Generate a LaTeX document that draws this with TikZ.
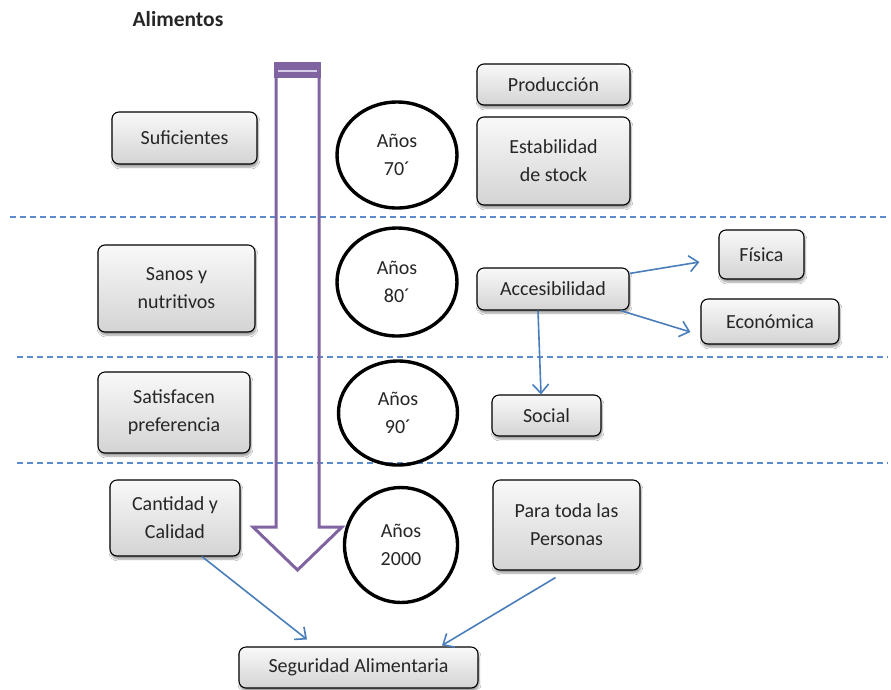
\documentclass[tikz,border=0pt]{standalone}
\usepackage{fontspec}
\setmainfont{Carlito}
\usetikzlibrary{arrows.meta,shadows.blur,calc,shapes.geometric}
\definecolor{dashblue}{RGB}{91,139,203}
\definecolor{arrblue}{RGB}{74,126,187}
\definecolor{purp}{RGB}{128,100,162}
\definecolor{purplight}{RGB}{215,205,230}
\begin{document}
\begin{tikzpicture}[x=1pt,y=-1pt,
  box/.style={draw=black, line width=1.1pt, rounded corners=7pt, top color=gray!5, bottom color=gray!34,
    align=center, inner sep=0pt, font=\fontsize{20}{28}\selectfont, text=black!85,
    blur shadow={shadow xshift=1pt, shadow yshift=-3pt, shadow opacity=40, shadow blur steps=6}},
  yr/.style={ellipse, draw=black, line width=3.4pt, align=center, inner sep=0pt, font=\fontsize{20}{28}\selectfont, text=black!85},
  sep/.style={dashblue, line width=1.2pt, dash pattern=on 6pt off 4pt},
  con/.style={arrblue, line width=1.6pt, -{Straight Barb[length=9pt,width=16pt,line width=1.6pt]}},
  big/.style={purp, line width=3pt, line join=miter}]
\useasboundingbox (0,0) rectangle (891,689);
\fill[white] (0,0) rectangle (891,689);

% title
\node[font=\fontsize{21.5}{24}\selectfont\bfseries, text=black!85] (title) at (178,19) {Alimentos};

% separators
\draw[sep] (10,217) -- (888,217);
\draw[sep] (17,357) -- (888,357);
\draw[sep] (17,463) -- (888,463);

% big arrow
\fill[purp] (274,62) rectangle (321,78);
\draw[purplight, line width=2pt] (278,71) -- (317,71);
\draw[big] (276,78) -- (276,527) -- (253,527) -- (297.5,570) -- (342,527) -- (319,527) -- (319,78);

% left column
\node[box, minimum width=145pt, minimum height=52pt] (suf) at (184.5,138) {Suficientes};
\node[box, minimum width=157pt, minimum height=87pt] (san) at (176.5,288.5) {Sanos y\\nutritivos};
\node[box, minimum width=152pt, minimum height=81pt] (sat) at (174,412.5) {Satisfacen\\preferencia};
\node[box, minimum width=130pt, minimum height=76pt] (cant) at (175,518) {Cantidad y\\Calidad};

% years
\node[yr, minimum width=120pt, minimum height=106pt] (y70) at (397,155) {Años\\70´};
\node[yr, minimum width=120pt, minimum height=108pt] (y80) at (397,282) {Años\\80´};
\node[yr, minimum width=119pt, minimum height=104pt] (y90) at (398,413) {Años\\90´};
\node[yr, minimum width=113pt, minimum height=115pt] (y00) at (401,545) {Años\\2000};

% right column
\node[box, minimum width=153pt, minimum height=41pt] (prod) at (553.5,84.5) {Producción};
\node[box, minimum width=153pt, minimum height=88pt] (est) at (553.5,161) {Estabilidad\\de stock};
\node[box, minimum width=152pt, minimum height=42pt] (acc) at (553,289) {Accesibilidad};
\node[box, minimum width=85pt, minimum height=49pt] (fis) at (761.5,254.5) {Física};
\node[box, minimum width=138pt, minimum height=45pt] (eco) at (770,321.5) {Económica};
\node[box, minimum width=109pt, minimum height=41pt] (soc) at (546.5,415.5) {Social};
\node[box, minimum width=147pt, minimum height=90pt] (para) at (566.5,525) {Para toda las\\Personas};
\node[box, minimum width=239pt, minimum height=41pt] (seg) at (358.5,667.5) {Seguridad Alimentaria};

% connectors
\draw[con] ([yshift=-6pt]acc.north east) -- ([xshift=-19pt,yshift=-7.5pt]fis.west);
\draw[con] ([xshift=-9pt]acc.south east) -- ([xshift=-10pt,yshift=-10.5pt]eco.west);
\draw[con] ([xshift=-15pt]acc.south) -- ([xshift=-5.5pt]soc.north);
\draw[con] ([xshift=27pt]cant.south) -- ([xshift=-51.5pt,yshift=7pt]seg.north);
\draw[con] ([xshift=-11pt,yshift=-7pt]para.south) -- ([xshift=83.5pt,yshift=1pt]seg.north);
\end{tikzpicture}
\end{document}
